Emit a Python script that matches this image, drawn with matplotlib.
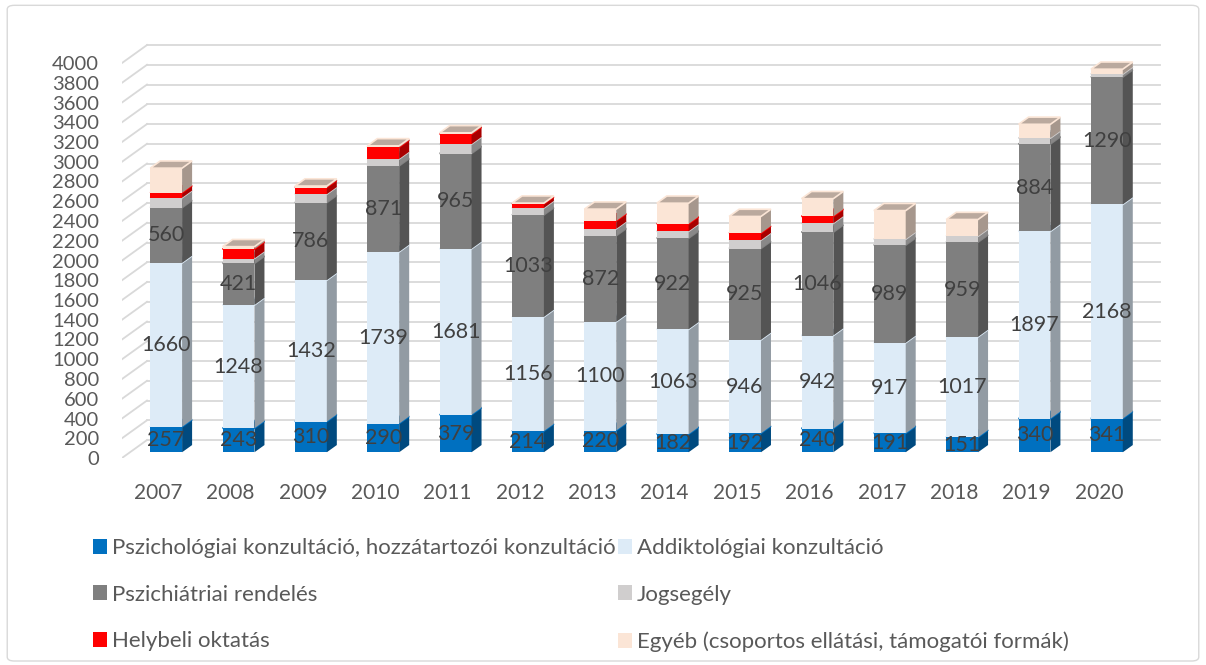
import numpy as np
import matplotlib
matplotlib.use("Agg")
import matplotlib.pyplot as plt
from matplotlib.patches import Polygon, Patch, FancyBboxPatch
from matplotlib.colors import to_rgb

plt.rcParams["font.family"] = ["Lato", "DejaVu Sans"]

# ── data ─────────────────────────────────────────────
years = [str(y) for y in range(2007, 2021)]
pszichologiai = [257, 243, 310, 290, 379, 214, 220, 182, 192, 240, 191, 151, 340, 341]
addiktologiai = [1660, 1248, 1432, 1739, 1681, 1156, 1100, 1063, 946, 942, 917, 1017, 1897, 2168]
pszichiatriai = [560, 421, 786, 871, 965, 1033, 872, 922, 925, 1046, 989, 959, 884, 1290]
jogsegely = [100, 50, 85, 70, 95, 70, 70, 70, 85, 90, 60, 60, 60, 30]
helybeli = [50, 95, 68, 118, 100, 40, 80, 75, 70, 70, 0, 0, 0, 0]
egyeb = [250, 25, 15, 15, 15, 10, 120, 210, 170, 180, 290, 170, 140, 50]

series_names = [
    "Pszichológiai konzultáció, hozzátartozói konzultáció",
    "Addiktológiai konzultáció",
    "Pszichiátriai rendelés",
    "Jogsegély",
    "Helybeli oktatás",
    "Egyéb (csoportos ellátási, támogatói formák)",
]
series_values = [pszichologiai, addiktologiai, pszichiatriai, jogsegely, helybeli, egyeb]
series_colors = ["#0070C0", "#DDEBF7", "#7F7F7F", "#D0CECE", "#FF0000", "#FBE5D6"]
labelled = [True, True, True, False, False, False]

yticks = list(range(0, 4001, 200))

# ── fake-3D geometry (category units / value units) ──
DX_WALL, DY_WALL = 0.3455, 182      # depth of the floor / side wall
Z0, Z1 = 0.32, 0.72                 # bar depth inside the floor
BAR_W = 0.44


def shade(color, f):
    r, g, b = to_rgb(color)
    return (r * f, g * f, b * f)


fig = plt.figure(figsize=(12.06, 6.65), dpi=100)
fig.patches.append(FancyBboxPatch((0.006, 0.006), 0.988, 0.986, boxstyle="round,pad=0,rounding_size=0.006",
                                  transform=fig.transFigure, fill=False, edgecolor="#D9D9D9", linewidth=1))

ax = fig.add_axes([122 / 1206, 207 / 665, 1040 / 1206, 418 / 665])
n = len(years)
ax.set_xlim(0, 1040 / 72.36)
ax.set_ylim(0, 418 / 0.09875)
for s in ax.spines.values():
    s.set_visible(False)

# walls: back gridlines and side-wall diagonals
for v in yticks:
    ax.plot([DX_WALL, n + DX_WALL], [v + DY_WALL, v + DY_WALL], color="#D9D9D9", lw=1.3, zorder=1)
    ax.plot([0, DX_WALL], [v, v + DY_WALL], color="#D9D9D9", lw=1.3, zorder=1)

# bars
fx0, fy0 = Z0 * DX_WALL, Z0 * DY_WALL
ddx, ddy = (Z1 - Z0) * DX_WALL, (Z1 - Z0) * DY_WALL
for i in range(n):
    left = i + 0.5 - BAR_W / 2 + fx0
    right = left + BAR_W
    base = 0
    for vals, col, lab in zip(series_values, series_colors, labelled):
        h = vals[i]
        if h <= 0:
            continue
        y0 = base + fy0
        y1 = y0 + h
        front = Polygon([(left, y0), (right, y0), (right, y1), (left, y1)], closed=True,
                        facecolor=col, edgecolor="none", zorder=3)
        side = Polygon([(right, y0), (right + ddx, y0 + ddy), (right + ddx, y1 + ddy), (right, y1)],
                       closed=True, facecolor=shade(col, 0.66), edgecolor="none", zorder=3)
        top = Polygon([(left, y1), (right, y1), (right + ddx, y1 + ddy), (left + ddx, y1 + ddy)],
                      closed=True, facecolor=shade(col, 0.74), edgecolor=col, linewidth=1.2, zorder=3)
        for p in (front, side, top):
            ax.add_patch(p)
        if lab:
            ax.text((left + right) / 2, (y0 + y1) / 2, f"{h}", ha="center", va="center",
                    fontsize=15.5, color="#404040", zorder=5)
        base += h

ax.set_yticks(yticks)
ax.set_yticklabels([str(v) for v in yticks])
ax.set_xticks(np.arange(n) + 0.5)
ax.set_xticklabels(years)
ax.tick_params(axis="y", length=0, pad=16.5, labelsize=14.5, labelcolor="#595959")
ax.tick_params(axis="x", length=0, pad=18, labelsize=15, labelcolor="#595959")

# legend: two columns, row order as in the reference
handles = [Patch(facecolor=c, edgecolor="none") for c in series_colors]
order = [0, 2, 4, 1, 3, 5]
fig.legend([handles[k] for k in order], [series_names[k] for k in order], ncol=2,
           loc="upper left", bbox_to_anchor=(93 / 1206, 1 - 538 / 665), frameon=False,
           fontsize=16, labelcolor="#595959", handlelength=0.65, handleheight=0.65,
           handletextpad=0.2, labelspacing=1.2, columnspacing=0.1, borderpad=0, borderaxespad=0)

fig.savefig("out.png", dpi=100)
